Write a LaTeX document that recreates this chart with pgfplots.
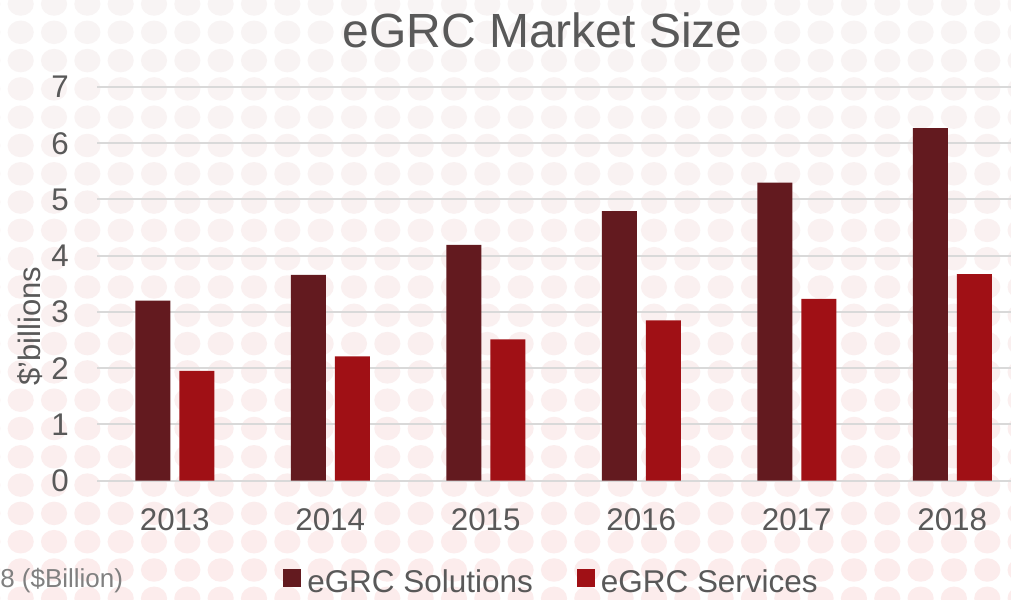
\documentclass[border=0pt]{standalone}
\usepackage{pgfplots}
\pgfplotsset{compat=1.18}
\usepackage{fontspec}
\setmainfont{Liberation Sans}
\definecolor{txt}{HTML}{595959}
\definecolor{note}{HTML}{808080}
\definecolor{sol}{HTML}{631A1F}
\definecolor{srv}{HTML}{A01015}
\definecolor{gridc}{HTML}{D9D9D9}
\definecolor{ctop}{HTML}{F8F4F4}
\definecolor{cbot}{HTML}{FCECEC}
\begin{document}
\begin{tikzpicture}[x=0.75pt,y=0.75pt]
\path[use as bounding box, clip] (0,0) rectangle (1011,600);
\fill[white] (0,0) rectangle (1011,600);
\foreach \r in {0,...,21}{
  \pgfmathtruncatemacro\p{100*\r/21}
  \pgfmathsetmacro\yy{596-28.3*\r}
  \foreach \c in {-1,...,30}{
    \fill[cbot!\p!ctop] (20.7+33.33*\c,\yy) ellipse [x radius=9.8pt, y radius=8.8pt];
  }
}
\begin{axis}[
  at={(72.75pt,89.625pt)}, anchor=south west,
  scale only axis, width=699.75pt, height=295.125pt,
  xmin=-0.5, xmax=5.5, ymin=0, ymax=7,
  axis line style={draw=none},
  ymajorgrids, grid style={gridc, line width=1.5pt},
  major tick length=0pt,
  xtick={0,...,5}, xticklabels={2013,2014,2015,2016,2017,2018},
  ytick={0,...,7}, yticklabels={0,1,2,3,4,5,6,7},
  /pgf/number format/assume math mode=true,
  ticklabel style={font=\fontsize{23.5}{28}\selectfont, text=txt, inner sep=0pt},
  y tick label style={anchor=east, xshift=-21pt},
  x tick label style={anchor=north, yshift=-20.6pt},
  ybar=6.75pt, bar width=26.25pt,
  legend columns=2,
  legend style={draw=none, fill=none, inner sep=0pt, at={(0.19936,-0.255)}, anchor=west,
    font=\fontsize{23.6}{28}\selectfont, text=txt, nodes={inner sep=0pt, text depth=0pt},
    /tikz/every odd column/.append style={column sep=4.5pt},
    /tikz/every even column/.append style={column sep=33pt}},
  legend image code/.code={\fill[#1,draw=none] (0pt,-4.85pt) rectangle (13.5pt,8.65pt);},
]
\addplot[fill=sol, draw=none] coordinates {(0,3.20) (1,3.66) (2,4.19) (3,4.79) (4,5.30) (5,6.27)};
\addplot[fill=srv, draw=none] coordinates {(0,1.95) (1,2.21) (2,2.51) (3,2.85) (4,3.23) (5,3.67)};
\legend{eGRC Solutions, eGRC Services}
\end{axis}
\node[anchor=base, text=txt, font=\fontsize{36}{40}\selectfont] at (542.5,552.5) {eGRC Market Size};
\node[rotate=90, text=txt, font=\fontsize{23.25}{28}\selectfont] at (30.5,274) {\$'billions};
\node[anchor=base west, inner sep=0pt, text=note, font=\fontsize{19.5}{24}\selectfont] at (0,12) {8 (\$Billion)};
\end{tikzpicture}
\end{document}
